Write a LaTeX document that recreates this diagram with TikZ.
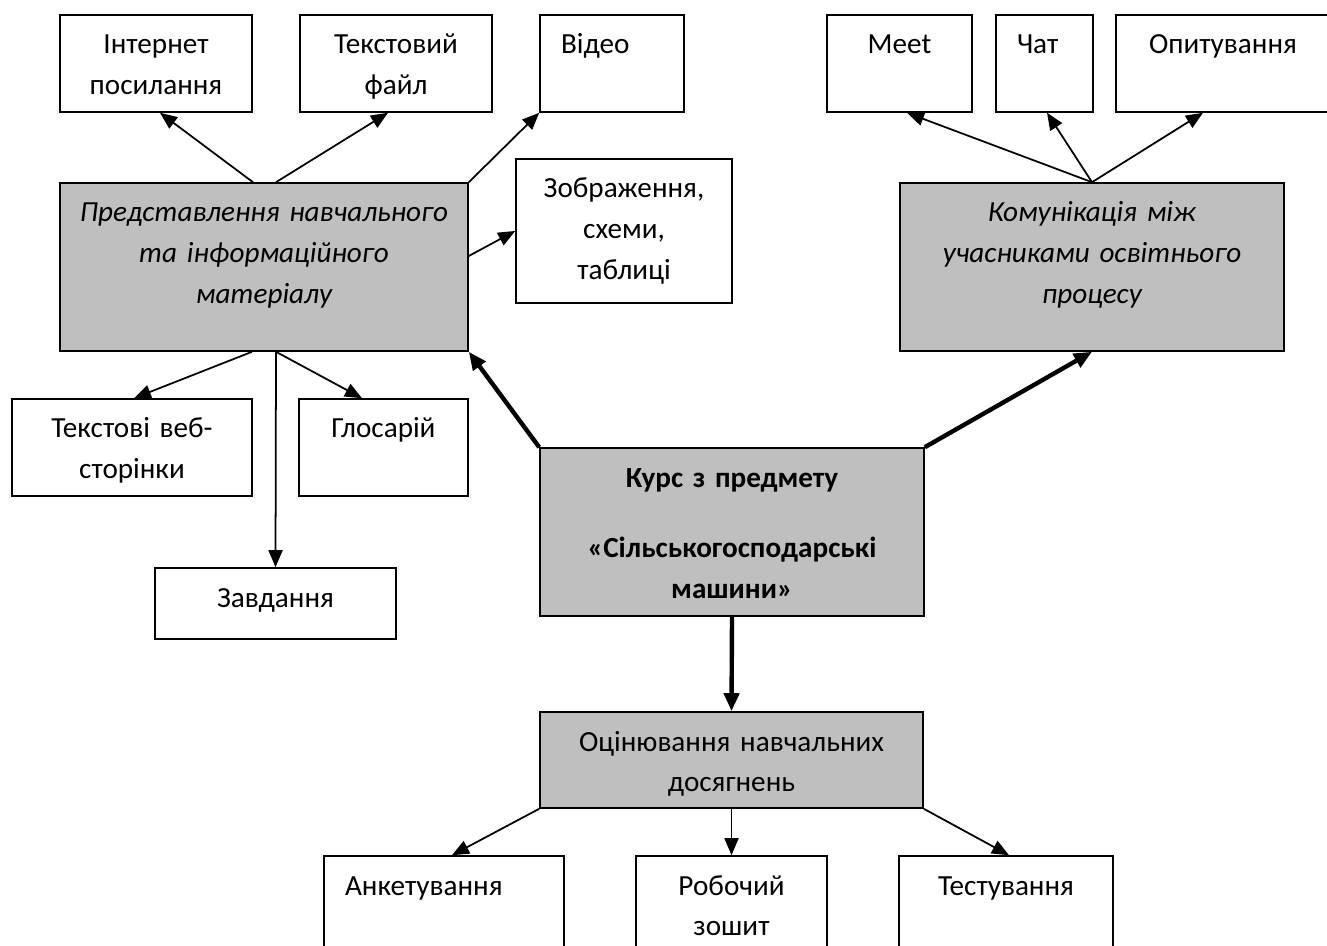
\documentclass[tikz,border=0pt]{standalone}
\usepackage{fontspec}
\setmainfont{Carlito}
\usetikzlibrary{arrows.meta, calc}
\definecolor{boxgray}{RGB}{191, 191, 191}

\begin{document}
\begin{tikzpicture}[
    box/.style={rectangle, draw=black, line width=0.9pt, fill=white, inner xsep=0pt, inner ysep=0pt, align=center, text height=0.78cm, font=\fontsize{16.6}{23.3}\selectfont},
    boxl/.style={box, align=left, inner xsep=0.42cm},
    mainbox/.style={box, fill=boxgray},
    arrow/.style={line width=1pt, -{Triangle[length=0.34cm, width=0.28cm]}},
    bigarrow/.style={line width=2.5pt, -{Triangle[length=0.36cm, width=0.3cm]}}
]
\useasboundingbox (0,0) rectangle (26.54,-18.92);

% верхній ряд
\node[box, text width=3.84cm, text depth=1.16cm] (inet) at (3.12, -1.27) {Інтернет\\посилання};
\node[box, text width=3.84cm, text depth=1.16cm] (tfile) at (7.92, -1.27) {Текстовий\\файл};
\node[boxl, text width=2.04cm, text depth=1.16cm] (video) at (12.24, -1.27) {Відео};
\node[box, text width=2.9cm, text depth=1.16cm] (meet) at (17.99, -1.27) {Meet};
\node[boxl, text width=1.1cm, text depth=1.16cm] (chat) at (20.89, -1.27) {Чат};
\node[box, text width=4.28cm, text depth=1.16cm] (opyt) at (24.46, -1.27) {Опитування};

% основні блоки
\node[mainbox, text width=8.16cm, text depth=2.58cm] (present) at (5.28, -5.34) {\itshape Представлення навчального\\та інформаційного\\матеріалу};
\node[box, text width=4.32cm, text depth=2.1cm] (images) at (12.48, -4.62) {Зображення,\\схеми,\\таблиці};
\node[mainbox, text width=7.68cm, text depth=2.58cm] (comm) at (21.84, -5.34) {\itshape Комунікація між\\учасниками освітнього\\процесу};

% середній ряд
\node[box, text width=4.8cm, text depth=1.16cm] (web) at (2.64, -8.95) {Текстові веб-\\сторінки};
\node[box, text width=3.38cm, text depth=1.16cm] (gloss) at (7.67, -8.95) {Глосарій};
\node[box, text width=4.82cm, text depth=0.64cm] (tasks) at (5.51, -12.07) {Завдання};
\node[mainbox, text width=7.68cm, text depth=2.58cm] (course) at (14.64, -10.64) {\bfseries Курс з предмету\\[0.6cm]«Сільськогосподарські\\машини»};

% оцінювання
\node[mainbox, text width=7.66cm, text depth=1.14cm] (eval) at (14.63, -15.2) {Оцінювання навчальних\\досягнень};
\node[boxl, text width=3.96cm, text depth=1.62cm] (survey) at (8.88, -18.32) {Анкетування};
\node[box, text width=3.82cm, text depth=1.62cm] (workbook) at (14.63, -18.32) {Робочий\\зошит};
\node[box, text width=4.28cm, text depth=1.62cm] (test) at (20.12, -18.32) {Тестування};

% стрілки
\draw[arrow] ([xshift=-0.22cm]present.north) -- ([xshift=0.08cm]inet.south);
\draw[arrow] ([xshift=0.24cm]present.north) -- ([xshift=-0.16cm]tfile.south);
\draw[arrow] (present.north east) -- (video.south west);
\draw[arrow] ([yshift=0.22cm]present.east) -- (images.west);
\draw[arrow] ([xshift=-0.24cm]present.south) -- ([xshift=0.04cm]web.north);
\draw[arrow] ([xshift=0.24cm]present.south) -- (tasks.north);
\draw[arrow] ([xshift=0.24cm]present.south) -- ([xshift=-0.43cm]gloss.north);

\draw[arrow] (comm.north) -- ([xshift=0.15cm]meet.south);
\draw[arrow] (comm.north) -- ([xshift=0.05cm]chat.south);
\draw[arrow] (comm.north) -- ([xshift=-0.4cm]opyt.south);

\draw[bigarrow] (course.north west) -- (present.south east);
\draw[bigarrow] (course.north east) -- (comm.south);
\draw[bigarrow] (course.south) -- (eval.north);

\draw[arrow] (eval.south west) -- ([xshift=0.16cm]survey.north);
\draw[arrow] (eval.south) -- (workbook.north);
\draw[arrow] (eval.south east) -- ([xshift=0.06cm]test.north);

\end{tikzpicture}
\end{document}
